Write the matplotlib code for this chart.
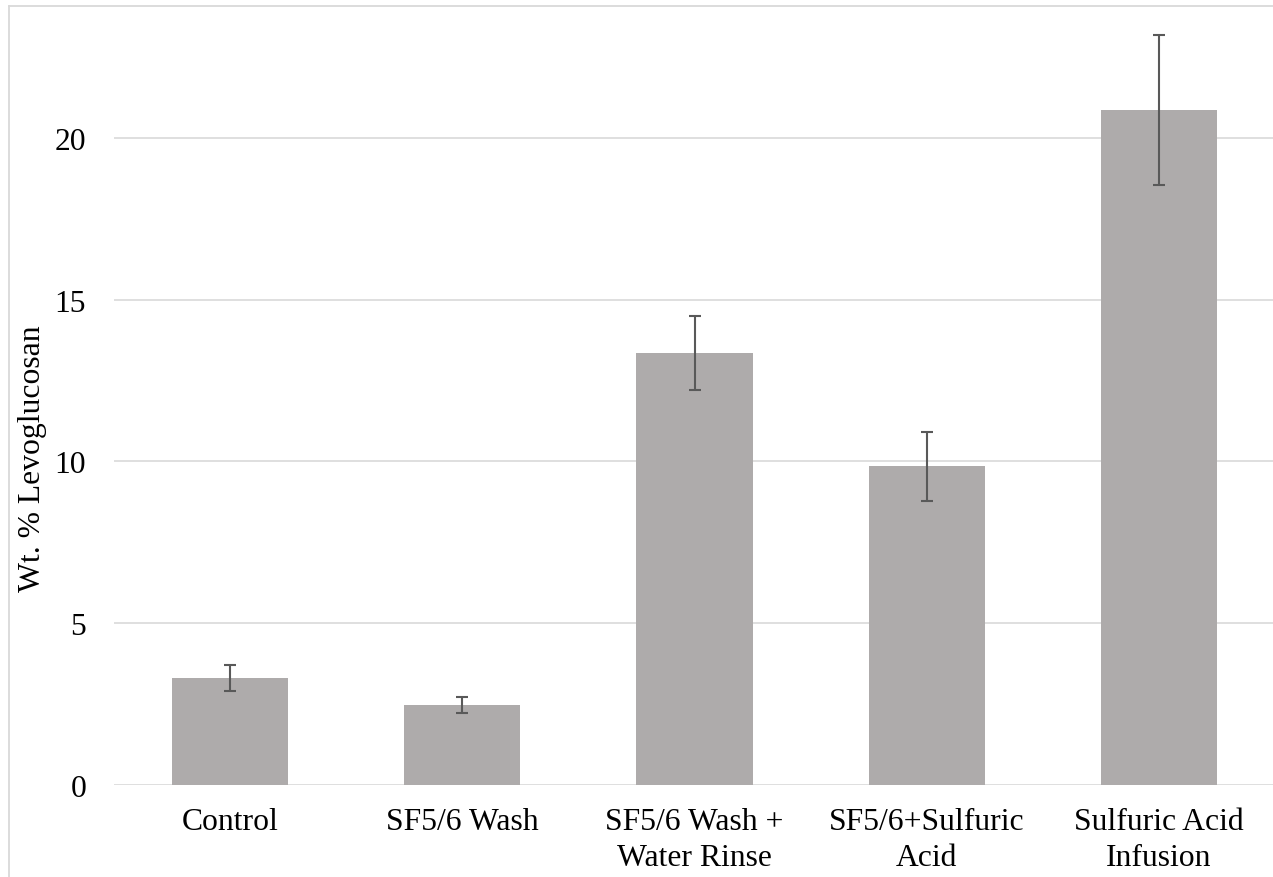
import numpy as np
import matplotlib
matplotlib.use('Agg')
import matplotlib.pyplot as plt
from matplotlib.lines import Line2D

plt.rcParams['font.family'] = ['Liberation Serif', 'DejaVu Serif']

# data
categories = ['Control', 'SF5/6 Wash', 'SF5/6 Wash +\nWater Rinse',
              'SF5/6+Sulfuric\nAcid', 'Sulfuric Acid\nInfusion']
levoglucosan = [3.31, 2.46, 13.34, 9.85, 20.86]
errors = [0.40, 0.25, 1.15, 1.07, 2.32]
yticks = [0, 5, 10, 15, 20]

W, H = 1273, 878
fig = plt.figure(figsize=(W / 100, H / 100), dpi=100)
fig.patch.set_facecolor('white')

# plot area in pixels (image is a crop of a larger chart)
left, right = 114, 1275
base, top = 785.7, 785.7 - 5 * 161.7
ax = fig.add_axes([left / W, (H - base) / H, (right - left) / W, (base - top) / H])

x = np.arange(len(categories))
ax.bar(x, levoglucosan, width=0.5, color='#AEABAB', zorder=2)
ax.errorbar(x, levoglucosan, yerr=errors, fmt='none', ecolor='#595959',
            elinewidth=1.5, capsize=4.3, capthick=1.5, zorder=3)

ax.set_xlim(-0.5, len(categories) - 0.5)
ax.set_ylim(0, 25)
ax.set_yticks(yticks)
ax.set_xticks(x)
ax.set_xticklabels(categories, fontsize=22.8, linespacing=1.3)
ax.tick_params(axis='x', length=0, pad=16)
ax.tick_params(axis='y', length=0, pad=20, labelsize=22.8)

ax.yaxis.grid(True, color='#D9D9D9', linewidth=1.2, zorder=0)
ax.set_axisbelow(True)
for s in ax.spines.values():
    s.set_visible(False)

fig.text(33 / W, (H - 458.5) / H, 'Wt. % Levoglucosan', rotation=90,
         ha='center', va='center', fontsize=22.8)

# chart border (only top and left visible in the crop)
bx, by = 8.5 / W, 1 - 7 / H
fig.add_artist(Line2D([bx, bx], [0, by], transform=fig.transFigure,
                      color='#D9D9D9', linewidth=1.3))
fig.add_artist(Line2D([bx, 1], [by, by], transform=fig.transFigure,
                      color='#D9D9D9', linewidth=1.3))

fig.savefig('out.png', dpi=100)
